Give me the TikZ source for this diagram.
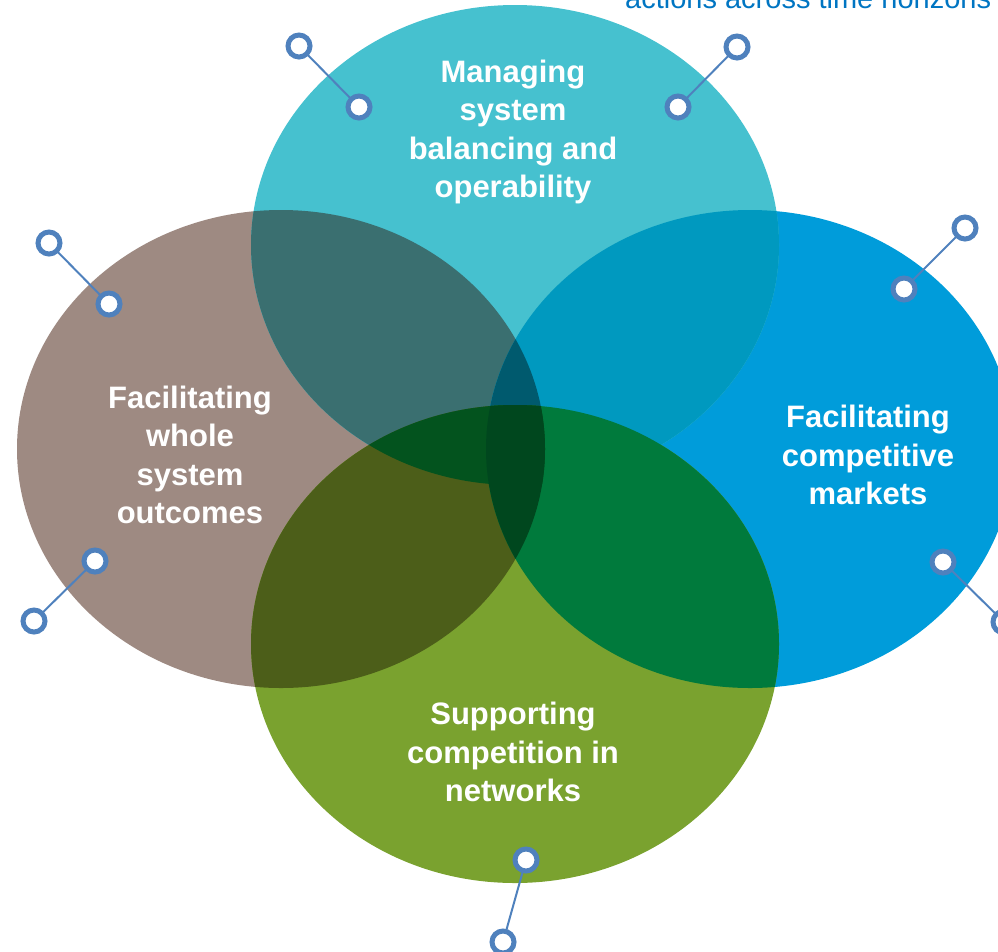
\documentclass[tikz,border=0pt]{standalone}
\usepackage{fontspec}
\setmainfont{Liberation Sans}
\definecolor{cteal}{HTML}{46C1CF}
\definecolor{cbrown}{HTML}{9E8A82}
\definecolor{cblue}{HTML}{009CDA}
\definecolor{cgreen}{HTML}{7AA22F}
\definecolor{cTL}{HTML}{3A6F70}
\definecolor{cTR}{HTML}{0099BF}
\definecolor{cTLR}{HTML}{005A6E}
\definecolor{cLB}{HTML}{4C5E19}
\definecolor{cRB}{HTML}{007A3C}
\definecolor{cTLB}{HTML}{03531E}
\definecolor{cLRB}{HTML}{00471E}
\definecolor{pinblue}{HTML}{4F81BD}
\definecolor{toptext}{HTML}{0075C2}
\tikzset{
  pin/.style={circle, draw=pinblue, line width=5pt, fill=white, minimum size=22pt, inner sep=0pt},
  pinline/.style={draw=pinblue, line width=2pt},
  label/.style={text=white, font=\bfseries\fontsize{31}{38.5}\selectfont, align=center},
}
\def\ET{(515,245) ellipse [x radius=264pt, y radius=240pt]}
\def\EL{(281,449) ellipse [x radius=264pt, y radius=239pt]}
\def\ER{(750,449) ellipse [x radius=264pt, y radius=239pt]}
\def\EB{(515,644) ellipse [x radius=264pt, y radius=239pt]}
\begin{document}
\begin{tikzpicture}[x=1pt,y=-1pt]
\useasboundingbox (0,0) rectangle (998,951);
% base ellipses
\fill[cbrown] \EL;
\fill[cblue] \ER;
\fill[cteal] \ET;
\fill[cgreen] \EB;
% pairwise overlaps
\begin{scope}\clip \ET; \fill[cTL] \EL; \end{scope}
\begin{scope}\clip \ET; \fill[cTR] \ER; \end{scope}
\begin{scope}\clip \EL; \fill[cTLR] \ER; \end{scope}
\begin{scope}\clip \EL; \fill[cLB] \EB; \end{scope}
\begin{scope}\clip \ER; \fill[cRB] \EB; \end{scope}
\begin{scope}\clip \ET; \clip \EL; \fill[cTLB] \EB; \end{scope}
\begin{scope}\clip \EL; \clip \ER; \fill[cLRB] \EB; \end{scope}
% labels
\node[label] (ltop) at (513,132) {Managing\\system\\balancing and\\operability};
\node[label] (lleft) at (190,455) {Facilitating\\whole\\system\\outcomes};
\node[label] (lright) at (868,455) {Facilitating\\competitive\\markets};
\node[label] (lbottom) at (513,752) {Supporting\\competition in\\networks};
\node[anchor=base west, inner sep=0pt, text=toptext, font=\fontsize{29}{34}\selectfont] (ttext) at (625,8) {actions across time horizons};
% pins
\coordinate (a1) at (299,46);  \coordinate (a2) at (359,107);
\coordinate (b1) at (737,47);  \coordinate (b2) at (678,107);
\coordinate (c1) at (49,243);  \coordinate (c2) at (109,304);
\coordinate (d1) at (965,228); \coordinate (d2) at (904,289);
\coordinate (e1) at (34,621);  \coordinate (e2) at (95,561);
\coordinate (f1) at (1004,622);\coordinate (f2) at (943,562);
\coordinate (g1) at (503,942); \coordinate (g2) at (526,860);
\foreach \p in {a,b,c,d,e,f,g}{
  \draw[pinline] (\p1) -- (\p2);
  \node[pin] (\p1n) at (\p1) {};
  \node[pin] (\p2n) at (\p2) {};
}
\end{tikzpicture}
\end{document}
